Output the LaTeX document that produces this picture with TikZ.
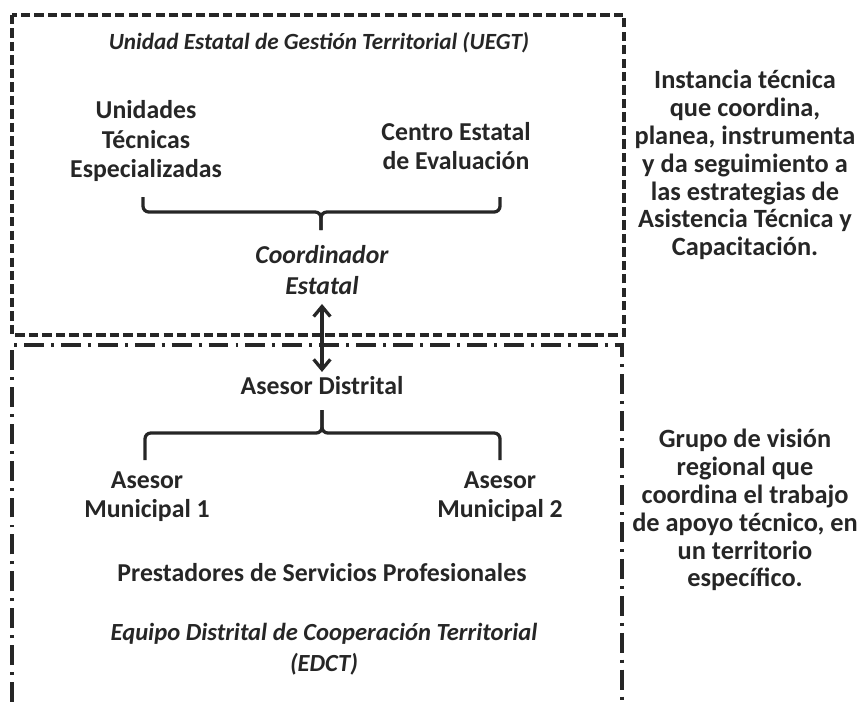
\documentclass[tikz,border=0pt]{standalone}
\usepackage{fontspec}
\setmainfont{Carlito}
\usetikzlibrary{arrows.meta, positioning}

\definecolor{txt}{HTML}{262626}

\begin{document}
\begin{tikzpicture}[x=0.03cm, y=-0.03cm,
    every node/.style={text=txt, align=center, inner sep=0pt},
    lbl/.style={font=\bfseries\fontsize{22}{25}\selectfont},
    ital/.style={font=\bfseries\itshape\fontsize{22}{26}\selectfont},
    title/.style={font=\bfseries\itshape\fontsize{19.8}{24}\selectfont},
    subtitle/.style={font=\bfseries\itshape\fontsize{21}{26}\selectfont},
    note/.style={font=\bfseries\fontsize{22.5}{23.8}\selectfont},
    uegtbox/.style={draw=txt, line width=3pt, dash pattern=on 8pt off 3.5pt},
    edctbox/.style={draw=txt, line width=3pt, dash pattern=on 17pt off 6pt on 2.5pt off 6pt},
    bracket/.style={draw=txt, line width=2.8pt, rounded corners=5pt},
    link/.style={draw=txt, line width=2.8pt, {Straight Barb[length=3mm, width=5mm, line width=2.8pt]}-{Straight Barb[length=3mm, width=5mm, line width=2.8pt]}}]

    \useasboundingbox (0,0) rectangle (863,702);

    % Unidad estatal (upper box)
    \draw[uegtbox] (12,15) rectangle (624,335);
    \node[title] (uegt) at (319,43) {Unidad Estatal de Gestión Territorial (UEGT)};
    \node[lbl] (unidades) at (146,141) {Unidades\\Técnicas\\Especializadas};
    \node[lbl] (centro) at (456,146) {Centro Estatal\\de Evaluación};
    \node[ital] (coord) at (322,270) {Coordinador\\Estatal};

    % Upper bracket
    \coordinate (tl) at (143,197);
    \coordinate (tr) at (500,197);
    \coordinate (tm) at (321,212);
    \coordinate (tt) at (321,230);
    \draw[bracket] (tl) |- (tm) -- (tt);
    \draw[bracket] (tt) -- (tm) -| (tr);

    % Equipo distrital (lower box, open at the bottom)
    \draw[edctbox] (12,702) -- (12,345) -- (622,345) -- (622,702);
    \node[lbl] (distrital) at (322,386) {Asesor Distrital};
    \node[lbl] (mun1) at (147,497) {Asesor\\Municipal 1};
    \node[lbl] (mun2) at (500,497) {Asesor\\Municipal 2};
    \node[lbl] (psp) at (322,573) {Prestadores de Servicios Profesionales};
    \node[subtitle] (edct) at (324,649) {Equipo Distrital de Cooperación Territorial\\(EDCT)};

    % Lower bracket
    \coordinate (bt) at (322,410);
    \coordinate (bm) at (322,433);
    \coordinate (bl) at (145,460);
    \coordinate (br) at (500,460);
    \draw[bracket] (bt) -- (bm) -| (bl);
    \draw[bracket] (bt) -- (bm) -| (br);

    % Link between both levels
    \draw[link] ([yshift=-8pt]coord.south) -- ([yshift=4pt]distrital.north);

    % Side notes
    \node[note] (inst) at (745,165) {Instancia técnica\\que coordina,\\planea, instrumenta\\y  da seguimiento a\\las estrategias de\\Asistencia Técnica y\\Capacitación.};
    \node[note] (grupo) at (745,510) {Grupo de visión\\regional que\\coordina el trabajo\\de apoyo técnico, en\\un territorio\\específico.};
\end{tikzpicture}
\end{document}
